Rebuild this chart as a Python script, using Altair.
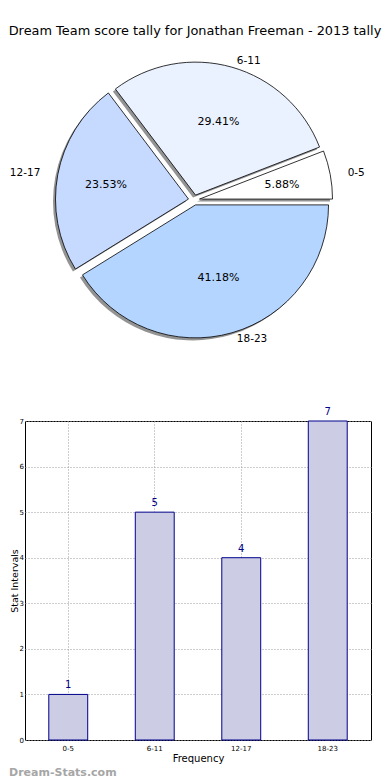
import altair as alt
import pandas as pd

# ---- data ----
categories = ["0-5", "6-11", "12-17", "18-23"]
counts = [1, 5, 4, 7]
pie_colors = ["#FFFFFF", "#EAF1FF", "#C6D9FF", "#B4D5FF"]
y_ticks = [0, 1, 2, 3, 4, 5, 6, 7]
title_text = "Dream Team score tally for Jonathan Freeman - 2013 tally"
watermark = ["Dream-Stats.com"]

# ---- layout constants ----
PW, PH = 346, 345
CX, CY = 169, 158      # pie centre inside its panel (from left / from top)
RX, RY = 137, 127      # label ellipse radii
R = 133                # drawn pie radius
EXPLODE = 0.04
SHADOW = 2.5
FONT = "DejaVu Sans"

df = pd.DataFrame({"cat": categories, "count": counts, "idx": list(range(len(categories)))})

pie_base = (
    alt.Chart(df)
    .transform_joinaggregate(total="sum(count)")
    .transform_window(cum="sum(count)", sort=[alt.SortField("idx")], frame=[None, 0])
    .transform_calculate(
        a0="2*PI*(datum.cum - datum.count)/datum.total",
        a1="2*PI*datum.cum/datum.total",
    )
    .transform_calculate(
        m="(datum.a0 + datum.a1)/2",
        t0="PI/2 - datum.a1",
        t1="PI/2 - datum.a0",
        pct="format(100*datum.count/datum.total, '.2f') + '%'",
    )
    .transform_calculate(
        dx=f"{EXPLODE * 140}*cos(datum.m)",
        dy=f"{EXPLODE * RY}*sin(datum.m)",
    )
    .transform_calculate(
        sx=f"datum.dx - {SHADOW}",
        sy=f"datum.dy - {SHADOW}",
        px=f"datum.dx + {0.6 * 140}*cos(datum.m)",
        py=f"datum.dy + {0.6 * RY}*sin(datum.m)",
        lx=f"datum.dx + {1.1 * RX}*cos(datum.m)",
        ly=f"datum.dy + {1.1 * RY}*sin(datum.m)",
    )
)

xs = alt.Scale(domain=[-CX, PW - CX], nice=False, zero=False)
ys = alt.Scale(domain=[-(PH - CY), CY], nice=False, zero=False)

shadow = pie_base.mark_arc(outerRadius=R, fill="#6f6f6f", fillOpacity=0.75).encode(
    x=alt.X("sx:Q", scale=xs, axis=None),
    y=alt.Y("sy:Q", scale=ys, axis=None),
    theta=alt.Theta("t0:Q", scale=None),
    theta2="t1:Q",
)

arcs = pie_base.mark_arc(outerRadius=R, stroke="black", strokeWidth=0.8).encode(
    x=alt.X("dx:Q", scale=xs, axis=None),
    y=alt.Y("dy:Q", scale=ys, axis=None),
    theta=alt.Theta("t0:Q", scale=None),
    theta2="t1:Q",
    color=alt.Color("cat:N", scale=alt.Scale(domain=categories, range=pie_colors), legend=None),
)

pcts = pie_base.mark_text(fontSize=11, font=FONT, color="black", align="center", baseline="middle").encode(
    x=alt.X("px:Q", scale=xs, axis=None),
    y=alt.Y("py:Q", scale=ys, axis=None),
    text="pct:N",
)

labels_r = pie_base.transform_filter("cos(datum.m) > 0").mark_text(
    fontSize=10.5, font=FONT, color="black", align="left", baseline="middle"
).encode(
    x=alt.X("lx:Q", scale=xs, axis=None),
    y=alt.Y("ly:Q", scale=ys, axis=None),
    text="cat:N",
)
labels_l = pie_base.transform_filter("cos(datum.m) <= 0").mark_text(
    fontSize=10.5, font=FONT, color="black", align="right", baseline="middle"
).encode(
    x=alt.X("lx:Q", scale=xs, axis=None),
    y=alt.Y("ly:Q", scale=ys, axis=None),
    text="cat:N",
)

pie = alt.layer(shadow, arcs, pcts, labels_r, labels_l).properties(
    width=PW, height=PH, view=alt.ViewBackground(stroke="transparent")
)

# ---- bar chart ----
bar_df = pd.DataFrame({"cat": categories, "count": counts})

xenc = alt.X(
    "cat:N",
    sort=categories,
    title="Frequency",
    scale=alt.Scale(paddingInner=0, paddingOuter=0),
    axis=alt.Axis(
        labelAngle=0, labelFontSize=7, titleFontSize=10, grid=True, gridDash=[1, 2],
        gridColor="#9a9a9a", bandPosition=0.5, domain=False, ticks=False,
        labelPadding=4, titlePadding=2, labelColor="black", titleColor="black",
        titleFontWeight="normal", titleFont=FONT, labelFont=FONT,
    ),
)
yenc = alt.Y(
    "count:Q",
    title="Stat Intervals",
    scale=alt.Scale(domain=[0, 7], nice=False),
    axis=alt.Axis(
        values=y_ticks, labelFontSize=7, titleFontSize=9.5, grid=True, gridDash=[1, 2],
        gridColor="#9a9a9a", domain=False, ticks=False, labelPadding=1.5, titlePadding=0,
        labelColor="black", titleColor="black", titleFontWeight="normal",
        titleFont=FONT, labelFont=FONT,
    ),
)

bar_base = alt.Chart(bar_df)
bars = bar_base.mark_bar(width={"band": 0.45}, fill="#CCCCE5", stroke="#00008B", strokeWidth=1).encode(
    x=xenc, y=yenc
)
bar_text = bar_base.mark_text(dy=-9, color="#00008B", fontSize=10, font=FONT, baseline="middle").encode(
    x=alt.X("cat:N", sort=categories),
    y=alt.Y("count:Q"),
    text="count:Q",
)
wm = alt.Chart(pd.DataFrame({"w": watermark})).mark_text(
    align="left", baseline="middle", fontSize=11, fontWeight="bold", color="#a6a6a6", font=FONT
).encode(x=alt.value(-16), y=alt.value(352), text="w:N")

bar_chart = alt.layer(bars, bar_text, wm).properties(
    width=346, height=319, view=alt.ViewBackground(stroke="black", strokeWidth=1)
)

chart = alt.vconcat(pie, bar_chart, spacing=18).properties(
    title=alt.Title(title_text, fontSize=12.9, font=FONT, fontWeight="normal", anchor="middle",
                    offset=4, dx=5, color="black"),
    padding={"left": 0, "top": 16, "right": 0, "bottom": 0},
).configure(font=FONT)

chart.save("out.html", embed_options={"renderer": "svg", "actions": False})
